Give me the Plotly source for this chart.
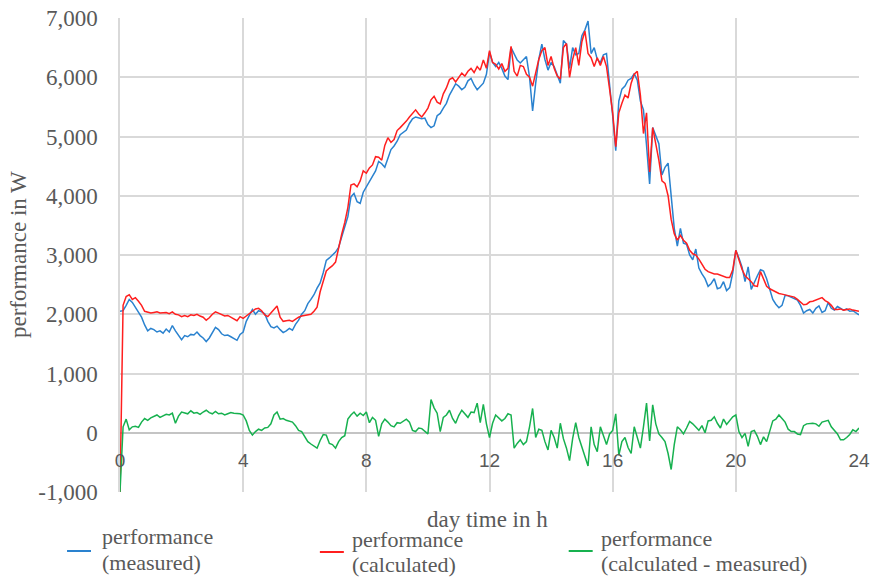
import plotly.graph_objects as go

# ---------------- data ----------------
hours = [round(i * 0.1, 1) for i in range(241)]

measured = [
    2050, 2060, 2150, 2250, 2200, 2120, 2040, 1950, 1820, 1720,
    1760, 1740, 1700, 1720, 1680, 1750, 1700, 1810, 1720, 1650,
    1570, 1640, 1620, 1660, 1650, 1700, 1640, 1600, 1540, 1600,
    1680, 1780, 1740, 1670, 1640, 1650, 1620, 1590, 1560, 1660,
    1700, 1880, 1990, 2080, 2000, 2060, 2040, 2010, 1880, 1790,
    1770, 1800, 1740, 1690, 1720, 1760, 1730, 1830, 1900, 2000,
    2060, 2180, 2250, 2330, 2440, 2530, 2700, 2910, 2950, 3000,
    3050, 3130, 3300, 3480, 3650, 3980, 4040, 3900, 3870, 4060,
    4150, 4230, 4310, 4420, 4580, 4540, 4480, 4650, 4780, 4840,
    4920, 5030, 5070, 5110, 5220, 5300, 5330, 5320, 5300, 5310,
    5200, 5150, 5180, 5350, 5390, 5480, 5560, 5700, 5790, 5890,
    5850, 5790, 5830, 5940, 5980, 5870, 5790, 5850, 5900, 6050,
    6420, 6250, 6180, 6250, 6150, 6020, 5960, 6500, 6380, 6290,
    6240, 6300, 6350, 6000, 5430, 5900, 6300, 6560, 6300, 6120,
    6250, 6180, 6050, 5900, 6620, 6560, 6150, 6500, 6380, 6400,
    6700, 6800, 6950, 6400, 6500, 6300, 6250, 6380, 6400, 5900,
    5350, 4760, 5600, 5800, 5850, 5950, 5980, 6060, 5950, 5600,
    5450, 4850, 4200, 5150, 5000, 4880, 4350, 4480, 4550, 3950,
    3450, 3150, 3450, 3200, 3180, 3000, 2920, 3100, 2780, 2680,
    2600, 2470, 2520, 2600, 2430, 2450, 2550, 2400, 2450, 2700,
    3080, 2950, 2800, 2550, 2800, 2420, 2550, 2650, 2750, 2730,
    2600, 2420, 2250, 2170, 2110, 2150, 2320, 2310, 2290, 2260,
    2240, 2150, 2020, 2060, 2080, 2020, 2100, 2140, 2030, 2060,
    2200, 2100, 2070, 2130, 2100, 2070, 2090, 2050, 2060, 2020,
    1990,
]

calculated = [
    -1000, 2150, 2300, 2330, 2250, 2280, 2220, 2150, 2050, 2030,
    2020, 2030, 2040, 2020, 2030, 2030, 2010, 2040, 2000, 1990,
    1960, 1980, 1960, 1990, 1980, 2000, 1970, 1950, 1900, 1940,
    2000, 2040, 2020, 1990, 1970, 1980, 1950, 1920, 1890, 1960,
    1930, 1970, 2010, 2050, 2090, 2100, 2060, 1990, 1960, 2020,
    2080, 2140, 1950, 1880, 1890, 1900, 1880, 1920, 1950, 1970,
    1980, 1990, 2000, 2050, 2120, 2380, 2560, 2730, 2780, 2820,
    2880, 3130, 3350, 3550, 3800, 4180, 4200, 4150, 4250, 4420,
    4380, 4470, 4520, 4660, 4650, 4600, 4850, 4980, 4900, 4950,
    5100, 5150, 5200, 5260, 5330, 5400, 5450, 5380, 5330, 5400,
    5480, 5620, 5680, 5580, 5550, 5720, 5820, 5960, 5990, 5920,
    6000, 6070, 6020, 6100, 6150, 6080, 6180, 6120, 6290, 6150,
    6450, 6250, 6220, 6140, 6230, 6100, 6150, 6520, 6100, 6020,
    6200, 6180, 6050, 6000, 5850, 6080, 6300, 6450, 6500, 6200,
    6350, 6150, 6020, 5970, 6500, 6570, 6000, 6300, 6500, 6200,
    6600, 6780, 6400, 6330, 6180, 6330, 6200, 6350, 6180, 5800,
    5400, 4830, 5400, 5560, 5700, 5650, 5900, 6050, 6100, 5700,
    5050, 5400, 4400, 5150, 4900, 4600, 4250, 4210, 4000, 3600,
    3360, 3250, 3330, 3250, 3200, 3080, 3020, 3000, 2930, 2840,
    2760, 2720, 2700, 2680, 2680, 2660, 2640, 2620, 2620, 2750,
    3080, 2930, 2760, 2650, 2600, 2550, 2480, 2470, 2720, 2600,
    2470, 2430, 2400, 2370, 2350, 2340, 2330, 2320, 2300, 2290,
    2250, 2200, 2160, 2170, 2210, 2220, 2240, 2250, 2280, 2230,
    2200, 2150, 2080, 2080, 2090, 2070, 2080, 2090, 2070, 2060,
    2050,
]

difference = [
    -1000, 100, 230, 50, 100, 110, 90, 180, 240, 210,
    250, 270, 300, 260, 290, 310, 300, 330, 160, 280,
    350, 330, 320, 370, 330, 340, 310, 350, 380, 340,
    320, 360, 320, 330, 300, 320, 340, 330, 330, 320,
    300, 200, 40, -40, 20, 60, 40, 80, 90, 150,
    300, 350, 230, 240, 210, 190, 180, 120, 40, 20,
    -60, -150, -190, -230, -260, -130, -30, -40, -180, -200,
    -260, -150, -80, -50, 230, 300, 350, 280, 330, 290,
    350, 170, 260, 210, -60, 150, 230, 180, 120, 100,
    170, 160, 200, 230, 180, 40, 20, 80, 70, 20,
    -20, 560, 420, 330, 20, 260, 300, 380, 240, 160,
    290, 380, 310, 260, 350, 340, 500, 170, 480, 150,
    -80, 160, 300, 250, 200, 240, 320, 300, -260, -180,
    -120, -200, -150, 100, 410, -80, 60, 40, -150, -290,
    40, -80, -260, 160, -100, -260, -470, -100, 170, -80,
    -260, -400, -560, 100, -200, -320, 100, -50, -200, -20,
    40, 320, -380, -150, -80, -250, -350, 100, -80, -260,
    100, 500, -140, 470, 150, -20, -80, -150, -350, -620,
    -200, 100, 50, -20, 80, 190, 150, 100, 40, 120,
    0, 200, 210, 270, 160, 80, 230, 140, 200, 270,
    300, 20, -80, -10, -230, 20, 40, -60, -200, -70,
    -150, 20, 200, 230, 300, 240, 180, 60, 20, 20,
    -20, -30, 120, 150, 160, 160, 150, 110, 180, 190,
    210, 100, 30, -20, -120, -120, -80, -30, 50, 20,
    80,
]

x_ticks = [0, 4, 8, 12, 16, 20, 24]
y_ticks = [-1000, 0, 1000, 2000, 3000, 4000, 5000, 6000, 7000]
legend_line1 = ["performance", "performance", "performance"]
legend_line2 = ["(measured)", "(calculated)", "(calculated - measured)"]

# ---------------- style ----------------
BLUE = "#2a82cf"
RED = "#ff1f1f"
GREEN = "#17b14f"
TXT = "#595959"
GRID = "#d9d9d9"
SERIF = "Liberation Serif, Times New Roman, serif"
SANS = "Liberation Sans, Arial, sans-serif"

L, R, T, B = 120, 859.5, 18, 492
W, H = R - L, B - T


def px(xp):
    return (xp - L) / W


def py(yp):
    return (B - yp) / H


fig = go.Figure()
fig.add_trace(go.Scatter(x=hours, y=measured, mode="lines",
                         line=dict(color=BLUE, width=1.5), showlegend=False))
fig.add_trace(go.Scatter(x=hours, y=calculated, mode="lines",
                         line=dict(color=RED, width=1.5), showlegend=False))
fig.add_trace(go.Scatter(x=hours, y=difference, mode="lines",
                         line=dict(color=GREEN, width=1.5), showlegend=False))

fig.update_layout(
    width=875, height=578,
    margin=dict(l=L, r=875 - R, t=T, b=578 - B, autoexpand=False),
    paper_bgcolor="white", plot_bgcolor="white",
    showlegend=False,
    xaxis=dict(range=[0, 24], tickvals=x_ticks, ticktext=[str(v) for v in x_ticks],
               showgrid=True, gridcolor=GRID, gridwidth=1.5,
               zeroline=False, showline=False, ticks="",
               anchor="free", position=0.125, automargin=False,
               tickfont=dict(family=SANS, size=19, color=TXT),
               ticklabelstandoff=14),
    yaxis=dict(range=[-1000, 7000], tickvals=y_ticks,
               ticktext=[f"{v:,}" for v in y_ticks],
               showgrid=True, gridcolor=GRID, gridwidth=1.5,
               zeroline=True, zerolinecolor="#c4c4c4", zerolinewidth=1.5,
               showline=True, linecolor=GRID, linewidth=1.5, ticks="",
               automargin=False,
               tickfont=dict(family=SERIF, size=23, color=TXT),
               ticklabelstandoff=16),
)

annotations = [
    dict(text="performance in W", x=px(18), y=0.5, xref="paper", yref="paper",
         textangle=-90, showarrow=False, xanchor="center", yanchor="middle",
         font=dict(family=SERIF, size=23, color=TXT)),
    dict(text="day time in h", x=px(488), y=py(519), xref="paper", yref="paper",
         showarrow=False, xanchor="center", yanchor="middle",
         font=dict(family=SERIF, size=23, color=TXT)),
]
shapes = []
# (line x0, line x1, line y, text x, text line1 y, text line2 y)
legend_pos = [(67, 91, 551, 101, 536, 562),
              (320, 344, 552, 351, 539, 564),
              (569, 593, 551, 600, 538, 563)]
for (lx0, lx1, ly, tx, ty1, ty2), t1, t2, col in zip(
        legend_pos, legend_line1, legend_line2, [BLUE, RED, GREEN]):
    shapes.append(dict(type="line", xref="paper", yref="paper",
                       x0=px(lx0), x1=px(lx1), y0=py(ly), y1=py(ly),
                       line=dict(color=col, width=2)))
    for txt, ty in ((t1, ty1), (t2, ty2)):
        annotations.append(dict(text=txt, x=px(tx), y=py(ty), xref="paper", yref="paper",
                                showarrow=False, xanchor="left", yanchor="middle",
                                align="left", borderpad=0,
                                font=dict(family=SERIF, size=22, color=TXT)))

fig.update_layout(annotations=annotations, shapes=shapes)
fig.write_html("out.html")
